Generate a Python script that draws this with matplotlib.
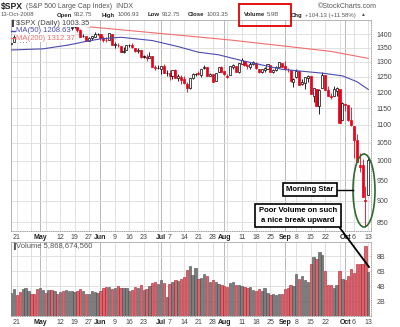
import numpy as np
import pandas as pd
import matplotlib
matplotlib.use('Agg')
import matplotlib.pyplot as plt
from matplotlib.patches import Ellipse, Rectangle
from matplotlib.lines import Line2D
from matplotlib.ticker import NullLocator

plt.rcParams['font.family'] = ['Liberation Sans', 'DejaVu Sans']

# trading days Apr 17 - Oct 13 2008 (Memorial Day, Jul 4, Labor Day closed)
dates = pd.bdate_range('2008-04-17', '2008-10-13')
dates = dates.drop(pd.to_datetime(['2008-05-26', '2008-07-04', '2008-09-01']))

prior_close = 1364.71

opens = [1363.37, 1369.00, 1387.72, 1386.43, 1378.40, 1380.52, 1387.88, 1397.96, 1395.61, 1391.22,
         1385.97, 1409.16, 1415.34, 1405.60, 1417.49, 1394.29, 1394.90, 1389.40, 1404.40, 1405.65,
         1408.36, 1423.89, 1425.28, 1424.49, 1414.06, 1390.83, 1392.20, 1375.97, 1386.54, 1390.50,
         1398.36, 1399.62, 1386.42, 1376.26, 1377.48, 1400.06, 1360.83, 1358.98, 1357.09, 1335.78,
         1341.81, 1358.85, 1360.71, 1349.59, 1336.89, 1341.02, 1319.77, 1317.23, 1314.54, 1321.97,
         1283.60, 1278.06, 1276.69, 1285.82, 1262.96, 1262.90, 1251.84, 1273.38, 1245.25, 1248.66,
         1241.61, 1226.83, 1214.65, 1246.31, 1258.22, 1261.82, 1257.08, 1278.87, 1283.22, 1253.51,
         1257.76, 1236.38, 1264.52, 1281.37, 1269.42, 1253.27, 1254.87, 1283.99, 1286.51, 1266.29,
         1294.42, 1304.79, 1288.64, 1282.11, 1293.85, 1298.14, 1276.65, 1267.34, 1271.07, 1277.59,
         1290.47, 1267.03, 1271.29, 1283.79, 1296.49, 1287.83, 1276.61, 1271.80, 1233.21, 1249.50,
         1267.98, 1227.50, 1229.04, 1245.88, 1250.92, 1188.31, 1210.34, 1157.08, 1213.11, 1255.37,
         1207.61, 1188.79, 1187.87, 1204.47, 1209.07, 1113.78, 1164.17, 1160.64, 1115.16, 1097.56,
         1057.60, 988.91, 988.42, 902.31, 912.75]
highs = [1368.60, 1395.90, 1390.23, 1386.43, 1387.87, 1397.72, 1399.11, 1402.90, 1397.00, 1404.57,
         1410.07, 1422.72, 1415.34, 1421.57, 1419.54, 1402.35, 1394.90, 1404.06, 1406.30, 1420.19,
         1424.40, 1425.82, 1440.24, 1424.49, 1419.12, 1399.07, 1392.20, 1387.40, 1391.25, 1406.32,
         1404.46, 1399.62, 1393.12, 1388.18, 1404.05, 1400.06, 1370.63, 1366.84, 1357.09, 1353.03,
         1360.03, 1364.70, 1366.59, 1349.59, 1347.66, 1341.02, 1323.78, 1326.02, 1335.63, 1321.97,
         1289.45, 1290.31, 1285.31, 1292.17, 1271.48, 1273.95, 1274.17, 1277.36, 1257.65, 1257.27,
         1253.50, 1234.35, 1245.52, 1262.31, 1262.23, 1267.74, 1277.42, 1291.17, 1283.22, 1263.23,
         1260.09, 1263.20, 1284.33, 1284.93, 1270.52, 1260.49, 1284.88, 1291.67, 1286.51, 1297.85,
         1313.15, 1304.79, 1294.03, 1300.11, 1302.05, 1300.22, 1276.65, 1276.01, 1281.40, 1293.09,
         1290.47, 1275.65, 1285.05, 1300.68, 1297.59, 1303.04, 1280.60, 1271.80, 1244.94, 1274.42,
         1268.66, 1243.90, 1249.98, 1255.09, 1250.92, 1214.84, 1210.34, 1211.14, 1265.12, 1255.37,
         1221.15, 1197.41, 1220.03, 1215.77, 1209.07, 1168.03, 1167.03, 1160.64, 1153.82, 1097.56,
         1072.91, 1021.06, 1005.25, 936.36, 1006.93]
lows = [1357.25, 1369.00, 1379.25, 1369.84, 1372.24, 1371.09, 1379.98, 1394.40, 1386.70, 1384.25,
        1383.07, 1406.25, 1404.37, 1397.10, 1391.16, 1389.39, 1384.11, 1386.20, 1396.26, 1405.65,
        1402.04, 1414.35, 1421.63, 1409.09, 1388.81, 1390.23, 1373.72, 1373.07, 1378.16, 1388.59,
        1398.08, 1377.79, 1370.12, 1371.74, 1377.48, 1359.90, 1350.62, 1351.56, 1335.47, 1331.29,
        1341.71, 1352.07, 1350.54, 1333.40, 1330.78, 1314.46, 1315.31, 1304.42, 1314.54, 1283.06,
        1272.00, 1274.86, 1260.68, 1261.51, 1252.01, 1240.68, 1242.84, 1244.57, 1236.76, 1225.35,
        1225.01, 1200.44, 1211.39, 1241.49, 1251.81, 1255.70, 1248.83, 1276.06, 1251.48, 1251.75,
        1234.37, 1236.38, 1264.52, 1265.97, 1254.54, 1247.45, 1254.67, 1276.00, 1264.29, 1262.11,
        1292.76, 1285.64, 1274.86, 1276.84, 1290.74, 1274.51, 1261.16, 1261.16, 1265.22, 1277.59,
        1264.87, 1263.21, 1270.03, 1283.79, 1282.74, 1272.20, 1265.59, 1232.83, 1217.23, 1247.12,
        1224.51, 1221.60, 1211.54, 1233.81, 1192.70, 1169.28, 1155.88, 1133.50, 1213.11, 1205.61,
        1187.06, 1179.79, 1187.87, 1187.54, 1106.42, 1113.78, 1140.77, 1111.43, 1098.14, 1007.97,
        996.23, 970.97, 909.19, 839.80, 912.75]
closes = [1365.56, 1390.33, 1388.17, 1375.94, 1379.93, 1388.82, 1397.84, 1396.37, 1390.94, 1385.59,
          1409.34, 1413.90, 1407.49, 1418.26, 1392.57, 1397.68, 1388.28, 1403.58, 1403.04, 1408.66,
          1423.57, 1425.35, 1426.63, 1413.40, 1390.71, 1394.35, 1375.93, 1385.35, 1390.84, 1398.26,
          1400.38, 1385.67, 1377.65, 1377.20, 1404.05, 1360.68, 1361.76, 1358.44, 1335.49, 1339.87,
          1360.03, 1360.14, 1350.93, 1337.81, 1342.83, 1317.93, 1318.00, 1314.29, 1321.97, 1283.15,
          1278.38, 1280.00, 1284.91, 1261.52, 1262.90, 1252.31, 1273.70, 1244.69, 1253.39, 1239.49,
          1228.30, 1214.91, 1245.36, 1260.32, 1260.68, 1260.00, 1277.00, 1282.19, 1252.54, 1257.76,
          1234.37, 1263.20, 1284.26, 1267.38, 1260.31, 1249.01, 1284.88, 1289.19, 1266.07, 1296.32,
          1305.32, 1289.59, 1285.83, 1292.93, 1298.20, 1278.60, 1266.69, 1274.54, 1277.72, 1292.20,
          1266.84, 1271.51, 1281.66, 1300.68, 1282.83, 1277.58, 1274.98, 1236.83, 1242.31, 1267.79,
          1224.51, 1232.04, 1249.05, 1251.70, 1192.70, 1213.60, 1156.39, 1206.51, 1255.08, 1207.09,
          1188.22, 1185.87, 1209.18, 1213.27, 1106.39, 1166.36, 1161.06, 1114.28, 1099.23, 1056.89,
          996.23, 984.94, 909.92, 899.22, 1003.35]
# daily volume, billions of shares
volume_bn = [3.1, 3.6, 2.8, 3.2, 3.6, 3.8, 3.3, 3.0, 3.0, 3.6,
             3.7, 3.5, 3.1, 3.5, 3.5, 3.3, 3.0, 3.2, 3.3, 3.5, 3.3, 3.4, 3.2, 3.3, 3.6, 3.3, 3.0, 2.9, 3.3, 3.2, 3.1,
             3.4, 3.8, 3.9, 3.9, 3.6, 3.8, 4.0, 3.8, 3.7, 3.7, 3.4, 3.5, 3.9, 3.8, 4.2, 3.5, 3.6, 4.0, 4.4, 4.6, 4.3,
             4.8, 4.4, 2.5, 4.3, 4.6, 4.8, 4.7, 5.0, 5.2, 6.1, 6.7, 5.5, 6.4, 4.9, 5.1, 5.6, 5.3, 4.6, 4.8, 4.6, 4.3, 4.1,
             4.0, 3.9, 4.4, 4.5, 4.2, 4.1, 4.0, 3.9, 3.8, 3.9, 3.5, 3.3, 3.6, 3.4, 3.7, 3.1, 2.8, 2.9, 2.8, 3.0, 2.9,
             3.6, 3.7, 4.2, 4.0, 5.6, 5.0, 5.3, 4.8, 4.5, 7.0, 7.9, 7.6, 8.6, 8.2, 6.0, 4.2, 4.1, 3.8, 4.2, 6.0, 5.0,
             4.8, 5.3, 6.3, 5.7, 6.9, 6.9, 7.0, 9.4, 5.87]

ma50_days = ['2008-04-17', '2008-05-02', '2008-05-15', '2008-05-27', '2008-06-02', '2008-06-11',
             '2008-06-26', '2008-07-10', '2008-07-21', '2008-07-30', '2008-08-11', '2008-08-29',
             '2008-09-19', '2008-09-30', '2008-10-07', '2008-10-13']
ma50_vals = [1342, 1346, 1360, 1375, 1382, 1388, 1376, 1354, 1334, 1325, 1305, 1275, 1262, 1253, 1234, 1208.63]
ma200_days = ['2008-04-17', '2008-05-27', '2008-07-15', '2008-08-05', '2008-08-29', '2008-09-24', '2008-10-13']
ma200_vals = [1456, 1427, 1393, 1378, 1357, 1337, 1312.37]

price_ticks = [850, 900, 950, 1000, 1050, 1100, 1150, 1200, 1250, 1300, 1350, 1400]
vol_ticks = [2, 4, 6, 8]
vol_tick_labels = ['2B', '4B', '6B', '8B']

week_days = ['2008-04-21', '2008-04-28', '2008-05-05', '2008-05-12', '2008-05-19', '2008-05-27',
             '2008-06-02', '2008-06-09', '2008-06-16', '2008-06-23', '2008-06-30', '2008-07-07',
             '2008-07-14', '2008-07-21', '2008-07-28', '2008-08-04', '2008-08-11', '2008-08-18',
             '2008-08-25', '2008-09-02', '2008-09-08', '2008-09-15', '2008-09-22', '2008-09-29',
             '2008-10-06', '2008-10-13']
month_days = ['2008-05-01', '2008-06-02', '2008-07-01', '2008-08-01', '2008-09-02', '2008-10-01']
label_days = ['2008-04-21', '2008-05-01', '2008-05-12', '2008-05-19', '2008-05-27', '2008-06-02',
              '2008-06-09', '2008-06-16', '2008-06-23', '2008-07-01', '2008-07-07', '2008-07-14',
              '2008-07-21', '2008-07-28', '2008-08-01', '2008-08-11', '2008-08-18', '2008-08-25',
              '2008-09-02', '2008-09-08', '2008-09-15', '2008-09-22', '2008-10-01', '2008-10-06',
              '2008-10-13']
label_text = ['21', 'May', '12', '19', '27', 'Jun', '9', '16', '23', 'Jul', '7', '14', '21', '28',
              'Aug', '11', '18', '25', 'Sep', '8', '15', '22', 'Oct', '6', '13']
month_names = {'May', 'Jun', 'Jul', 'Aug', 'Sep', 'Oct'}


def pos(day_list):
    return [dates.get_loc(pd.Timestamp(d)) for d in day_list]


W, H = 400, 327


def fx(px):
    return px / W


def fy(py):
    return 1 - py / H


RED = '#e8001a'
GRID = '#dcdcdc'
TXT = '#444444'

fig = plt.figure(figsize=(4, 3.27), dpi=100)
fig.patch.set_facecolor('white')
renderer = fig.canvas.get_renderer()
ax = fig.add_axes([fx(11), fy(231), fx(360), 211 / H])
axv = fig.add_axes([fx(11), fy(316), fx(360), 74 / H])

x = np.arange(len(dates))
o = np.array(opens)
h = np.array(highs)
l = np.array(lows)
c = np.array(closes)
prev = np.r_[prior_close, c[:-1]]
up_day = c >= prev
edge = np.where(up_day, 'black', RED)
hollow = c >= o
face = np.where(hollow, 'white', edge)

# weekly and monthly grid lines
for a in (ax, axv):
    for p in pos(week_days):
        a.axvline(p, color=GRID, lw=0.6, zorder=0)
    for p in pos(month_days):
        a.axvline(p, color='#b8b8b8', lw=0.7, zorder=0)

# candles
ax.vlines(x, l, h, colors=edge, lw=0.6, zorder=2)
body = np.maximum(np.abs(c - o), 0.8)
ax.bar(x, body, bottom=np.minimum(o, c), width=0.72, color=face, edgecolor=edge, lw=0.5, zorder=3)

# moving averages
ax.plot(pos(ma50_days), ma50_vals, color='#4b4bb0', lw=0.8, zorder=4)
ax.plot(pos(ma200_days), ma200_vals, color='#f26d6d', lw=0.8, zorder=4)

ax.set_yscale('log')
ax.set_ylim(830.5, 1453)
ax.set_yticks(price_ticks)
ax.set_yticklabels([str(t) for t in price_ticks])
ax.yaxis.set_minor_locator(NullLocator())
ax.yaxis.tick_right()
ax.grid(axis='y', color=GRID, lw=0.6, zorder=0)

# volume bars
vol_face = np.where(up_day, '#7c7c7c', '#d8656c')
vol_edge = np.where(up_day, '#4a4a4a', '#b0182a')
axv.bar(x, volume_bn, width=0.8, color=vol_face, edgecolor=vol_edge, lw=0.4, zorder=3)
axv.set_ylim(0, 9.87)
axv.set_yticks(vol_ticks)
axv.set_yticklabels(vol_tick_labels)
axv.yaxis.tick_right()
axv.grid(axis='y', color=GRID, lw=0.6, zorder=0)

for a in (ax, axv):
    a.set_xlim(-0.07, len(dates) - 0.07)
    a.set_xticks(pos(label_days))
    a.set_xticklabels(label_text)
    a.tick_params(axis='both', length=0, labelsize=5, colors=TXT)
    a.tick_params(axis='x', pad=2.5)
    a.tick_params(axis='y', pad=4)
    for t in a.get_xticklabels():
        if t.get_text() in month_names:
            t.set_fontweight('bold')
            t.set_color('#222222')
    a.set_axisbelow(True)
    for s in ('left', 'top'):
        a.spines[s].set_color('#aaaaaa')
        a.spines[s].set_linewidth(0.6)
    for s in ('right', 'bottom'):
        a.spines[s].set_color('#999999')
        a.spines[s].set_linewidth(0.6)
        a.spines[s].set_linestyle(':')


def put(px, py, s, size, weight='normal', color='#555555'):
    t = fig.text(fx(px), fy(py), s, fontsize=size, fontweight=weight, color=color, va='center')
    return px + t.get_window_extent(renderer).width


# header, line 1
end = put(1, 6, '$SPX', 6.2, 'bold', '#222222')
put(end + 3, 6, '(S&P 500 Large Cap Index)  INDX', 5, color='#555555')
put(318, 6, '\u00a9StockCharts.com', 5, color='#555555')

# header, line 2: bold label then value
line2 = [(57, 'Open', '912.75'), (102, 'High', '1006.93'), (148, 'Low', '912.75'),
         (188, 'Close', '1003.35'), (244, 'Volume', '5.9B'), (291, 'Chg', '+104.13 (+11.58%)')]
put(1, 15, '13-Oct-2008', 4.3)
for px, lab, val in line2:
    end = put(px, 15, lab, 4.3, 'bold', '#222222')
    end = put(end + 2, 15, val, 4.3)
put(end + 5, 15, '\u25b2', 3.5, color='#555555')
fig.patches.append(Rectangle((fx(239), fy(26)), fx(52), 22 / H, transform=fig.transFigure,
                             fill=False, ec='#e00000', lw=1.3))

# legend
bb = dict(facecolor='white', edgecolor='none', pad=0.3)
fig.text(fx(16), fy(23.5), '$SPX (Daily) 1003.35', fontsize=5.5, color='#444', va='center', bbox=bb)
fig.text(fx(12), fy(23.5), '\u258c', fontsize=4, color='#444', va='center')
fig.text(fx(16), fy(31), 'MA(50) 1208.63', fontsize=5.5, color='#4b4bb0', va='center', bbox=bb)
fig.text(fx(16), fy(38), 'MA(200) 1312.37', fontsize=5.5, color='#f26d6d', va='center', bbox=bb)
fig.lines.append(Line2D([fx(11), fx(15)], [fy(31), fy(31)], transform=fig.transFigure,
                        color='#4b4bb0', lw=1.0))
fig.lines.append(Line2D([fx(11), fx(15)], [fy(38), fy(38)], transform=fig.transFigure,
                        color='#f26d6d', lw=1.0))
fig.text(fx(16), fy(246), 'Volume 5,868,674,560', fontsize=5.5, color='#555', va='center')
fig.text(fx(11.5), fy(246), '\u2590', fontsize=4, color='#555', va='center')

# annotations
box = dict(boxstyle='square,pad=0.45', facecolor='white', edgecolor='black', lw=1.2)
fig.text(fx(310), fy(189.5), 'Morning Star', fontsize=5.5, fontweight='bold', ha='center',
         va='center', bbox=box)
fig.text(fx(298), fy(215.5), 'Poor Volume on such\na nice break upward', fontsize=5.5,
         fontweight='bold', ha='center', va='center', linespacing=1.5, bbox=box)
fig.lines.append(Line2D([fx(337), fx(353)], [fy(189.5), fy(189.5)], transform=fig.transFigure,
                        color='black', lw=1.0))
fig.lines.append(Line2D([fx(340), fx(369)], [fy(228), fy(267)], transform=fig.transFigure,
                        color='black', lw=1.3))
fig.patches.append(Ellipse((fx(364), fy(190.5)), fx(22), 73 / H, transform=fig.transFigure,
                           fill=False, ec='#2d6a2d', lw=1.2))

fig.savefig('out.png', dpi=100)
